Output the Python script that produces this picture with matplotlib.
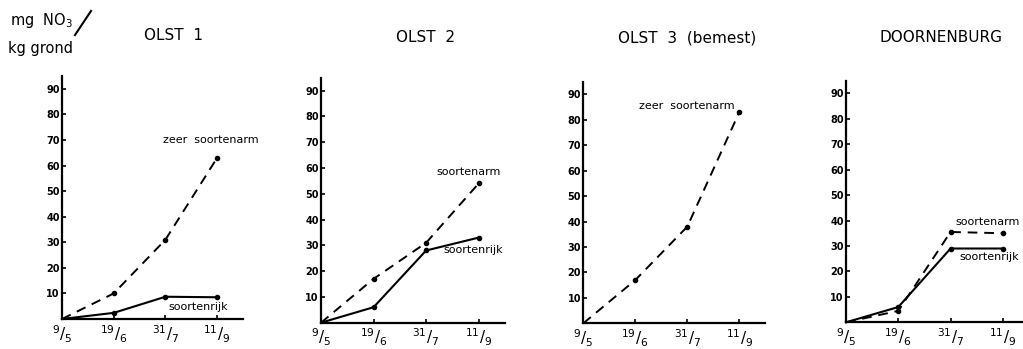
import matplotlib
matplotlib.use("Agg")
import matplotlib.pyplot as plt
from matplotlib.lines import Line2D

# Sampling dates (9 May, 19 June, 31 July, 11 September)
dates = [r"$^{9}/_{5}$", r"$^{19}/_{6}$", r"$^{31}/_{7}$", r"$^{11}/_{9}$"]
yticks = [10, 20, 30, 40, 50, 60, 70, 80, 90]

# Nitrate content, mg NO3 per kg soil
olst1_zeer_soortenarm = [0, 10, 31, 63]
olst1_soortenrijk = [0, 2.4, 8.7, 8.5]
olst2_soortenarm = [0, 17, 31, 54]
olst2_soortenrijk = [0, 6, 28, 33]
olst3_zeer_soortenarm = [0, 17, 38, 83]
doornenburg_soortenarm = [0, 4.5, 35.5, 35]
doornenburg_soortenrijk = [0, 6, 29, 29]

titles = ["OLST  1", "OLST  2", "OLST  3  (bemest)", "DOORNENBURG"]

W, H = 1023, 349
fig = plt.figure(figsize=(W / 100, H / 100), dpi=100)
fig.patch.set_facecolor("white")

FONT = dict(family="DejaVu Sans")

# axes boxes in pixels: left, baseline (from top), width, height
boxes = [
    (62, 319, 181, 243),
    (321, 322.7, 184, 245),
    (583.3, 323.3, 182, 241.7),
    (846, 322.3, 183, 241.7),
]
title_pos = [(173, 35), (426, 38), (687, 38), (941, 38)]

axes = []
for (l, b, w, h) in boxes:
    ax = fig.add_axes([l / W, (H - b) / H, w / W, h / H])
    ax.set_xlim(0, 3.5)
    ax.set_ylim(0, 95)
    for s in ("top", "right"):
        ax.spines[s].set_visible(False)
    for s in ("left", "bottom"):
        ax.spines[s].set_linewidth(1.6)
    ax.set_yticks(yticks)
    ax.set_yticklabels([str(v) for v in yticks], fontsize=7, fontweight="bold", **FONT)
    ax.set_xticks(range(len(dates)))
    ax.set_xticklabels(dates, fontsize=11)
    ax.tick_params(axis="y", direction="in", length=3, width=1.2, pad=1.5)
    ax.tick_params(axis="x", direction="in", length=3, width=1.2, pad=3)
    ax.patch.set_alpha(0)
    axes.append(ax)

x = list(range(len(dates)))
dash = dict(color="black", lw=1.4, linestyle=(0, (5, 3.5)))
solid = dict(color="black", lw=1.5, linestyle="-")


def draw(ax, values, style):
    ax.plot(x, values, **style, clip_on=False)
    ax.plot(x[1:], values[1:], "o", color="black", ms=3, clip_on=False)


draw(axes[0], olst1_zeer_soortenarm, dash)
draw(axes[0], olst1_soortenrijk, solid)
draw(axes[1], olst2_soortenarm, dash)
draw(axes[1], olst2_soortenrijk, solid)
draw(axes[2], olst3_zeer_soortenarm, dash)
draw(axes[3], doornenburg_soortenarm, dash)
draw(axes[3], doornenburg_soortenrijk, solid)

lab = dict(fontsize=8, color="black", **FONT)
axes[0].text(1.95, 70, "zeer  soortenarm", ha="left", va="center", **lab)
axes[0].text(2.05, 4.5, "soortenrijk", ha="left", va="center", **lab)
axes[1].text(2.2, 58.5, "soortenarm", ha="left", va="center", **lab)
axes[1].text(2.32, 28, "soortenrijk", ha="left", va="center", **lab)
axes[2].text(1.08, 85.5, "zeer  soortenarm", ha="left", va="center", **lab)
axes[3].text(2.1, 39.5, "soortenarm", ha="left", va="center", **lab)
axes[3].text(2.16, 25.5, "soortenrijk", ha="left", va="center", **lab)

for (tx, ty), t in zip(title_pos, titles):
    fig.text(tx / W, 1 - ty / H, t, ha="center", va="center", fontsize=11, **FONT)

# unit label
fig.text(10 / W, 1 - 21 / H, r"mg  NO$_3$", ha="left", va="center", fontsize=10.5, **FONT)
fig.add_artist(Line2D([75 / W, 91 / W], [1 - 35 / H, 1 - 11 / H],
                      transform=fig.transFigure, color="black", lw=1.5))
fig.text(8 / W, 1 - 49 / H, "kg grond", ha="left", va="center", fontsize=10.5, **FONT)

fig.savefig("out.png", dpi=100, facecolor="white")
